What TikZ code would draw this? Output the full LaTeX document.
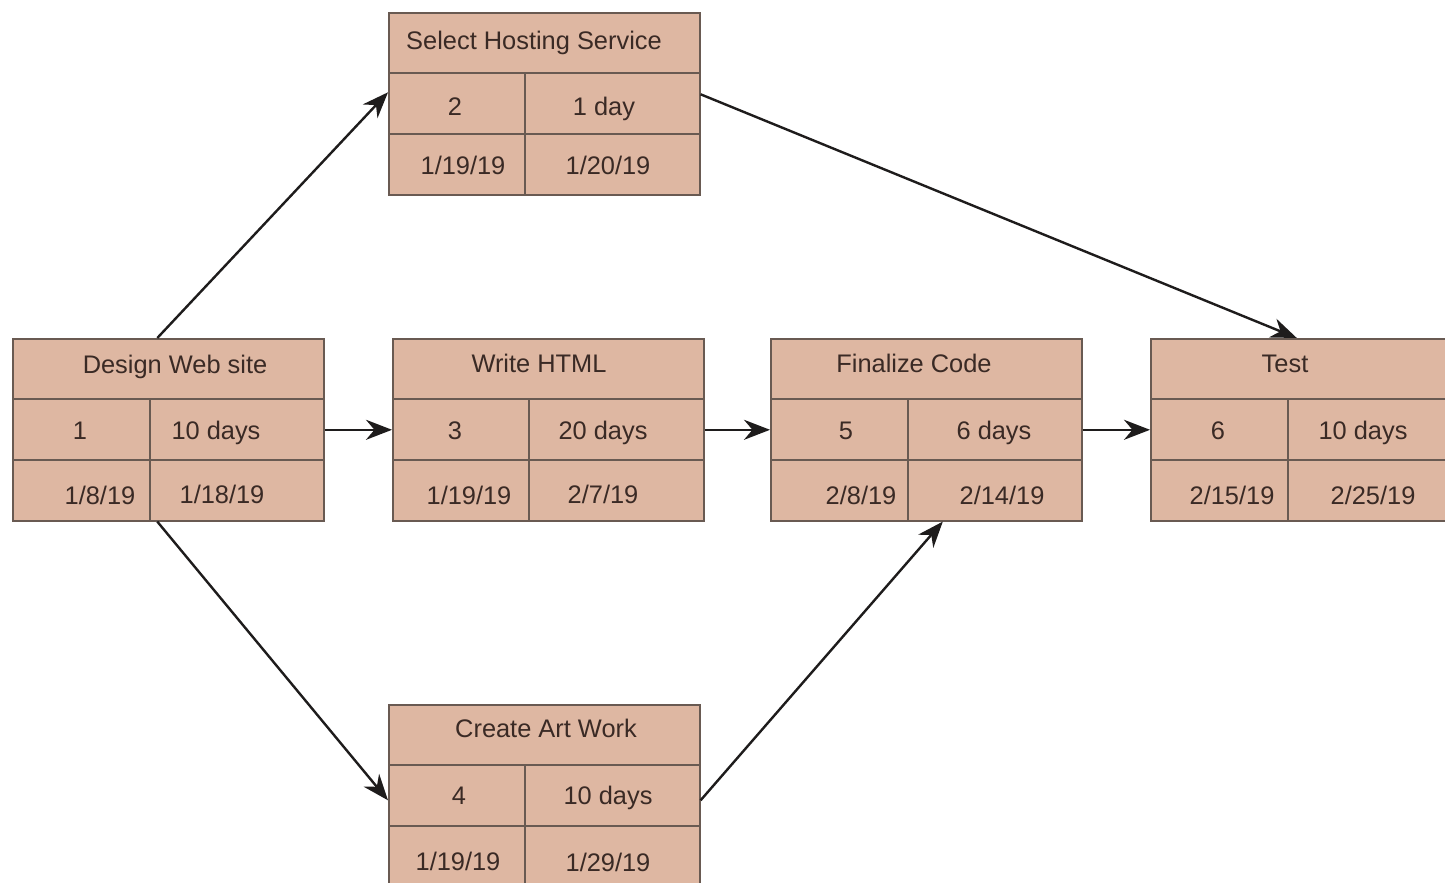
\documentclass[tikz,border=0pt]{standalone}
\usepackage{fontspec}
\setmainfont{Liberation Sans}
\usetikzlibrary{arrows.meta}
\definecolor{boxfill}{RGB}{222,183,162}
\definecolor{boxline}{RGB}{105,90,82}
\definecolor{txt}{RGB}{58,42,37}
\definecolor{arrowc}{RGB}{30,28,28}
\tikzset{
  act/.style={draw=boxline, fill=boxfill, line width=0.8pt, minimum width=155.5pt, minimum height=91pt, inner sep=0pt, anchor=north west},
  cell/.style={text=txt, font=\fontsize{12.7}{15}\selectfont, inner sep=0pt, text height=0.72em, text depth=0pt},
  grid/.style={draw=boxline, line width=0.8pt},
  link/.style={draw=arrowc, line width=1.2pt, -{Stealth[length=13pt,width=10pt]}}
}
\begin{document}
\begin{tikzpicture}[x=0.5pt,y=-0.5pt]
\clip (0,0) rectangle (1445,883);
\fill[white] (0,0) rectangle (1445,883);
% Select Hosting Service
\node[act] (select) at (388,12) {};
\draw[grid] (388,73) -- (700,73) (388,134) -- (700,134) (525,73) -- (525,195);
\node[cell] (s-t) at (534,42) {Select Hosting Service};
\node[cell] (s-id) at (455,108) {2};
\node[cell] (s-du) at (604,108) {1 day};
\node[cell] (s-st) at (463,167) {1/19/19};
\node[cell] (s-en) at (608,167) {1/20/19};
% Design Web site
\node[act] (design) at (12,338) {};
\draw[grid] (12,399) -- (325,399) (12,460) -- (325,460) (150,399) -- (150,521);
\node[cell] (d-t) at (175,366) {Design Web site};
\node[cell] (d-id) at (80,432) {1};
\node[cell] (d-du) at (216,432) {10 days};
\node[cell] (d-st) at (100,497) {1/8/19};
\node[cell] (d-en) at (222,496) {1/18/19};
% Write HTML
\node[act] (write) at (392,338) {};
\draw[grid] (392,399) -- (704,399) (392,460) -- (704,460) (529,399) -- (529,521);
\node[cell] (w-t) at (539,365) {Write HTML};
\node[cell] (w-id) at (455,432) {3};
\node[cell] (w-du) at (603,432) {20 days};
\node[cell] (w-st) at (469,497) {1/19/19};
\node[cell] (w-en) at (603,496) {2/7/19};
% Finalize Code
\node[act] (final) at (770,338) {};
\draw[grid] (770,399) -- (1083,399) (770,460) -- (1083,460) (908,399) -- (908,521);
\node[cell] (f-t) at (914,365) {Finalize Code};
\node[cell] (f-id) at (846,432) {5};
\node[cell] (f-du) at (994,432) {6 days};
\node[cell] (f-st) at (861,497) {2/8/19};
\node[cell] (f-en) at (1002,497) {2/14/19};
% Test
\node[act] (test) at (1150,338) {};
\draw[grid] (1150,399) -- (1463,399) (1150,460) -- (1463,460) (1288,399) -- (1288,521);
\node[cell] (t-t) at (1285,365) {Test};
\node[cell] (t-id) at (1218,432) {6};
\node[cell] (t-du) at (1363,432) {10 days};
\node[cell] (t-st) at (1232,497) {2/15/19};
\node[cell] (t-en) at (1373,497) {2/25/19};
% Create Art Work
\node[act] (create) at (388,704) {};
\draw[grid] (388,765) -- (700,765) (388,826) -- (700,826) (525,765) -- (525,887);
\node[cell] (c-t) at (546,730) {Create Art Work};
\node[cell] (c-id) at (459,797) {4};
\node[cell] (c-du) at (608,797) {10 days};
\node[cell] (c-st) at (458,863) {1/19/19};
\node[cell] (c-en) at (608,864) {1/29/19};
% Connectors
\draw[link] ([xshift=-5.5pt]design.north) -- ([yshift=5.75pt]select.west);
\draw[link] ([yshift=4.75pt]select.east) -- ([xshift=-4.75pt]test.north);
\draw[link] (design.east) -- (write.west);
\draw[link] (write.east) -- (final.west);
\draw[link] (final.east) -- (test.west);
\draw[link] ([xshift=-5.5pt]design.south) -- ([yshift=-2.25pt]create.west);
\draw[link] ([yshift=-2.25pt]create.east) -- ([xshift=8.25pt]final.south);
\end{tikzpicture}
\end{document}
